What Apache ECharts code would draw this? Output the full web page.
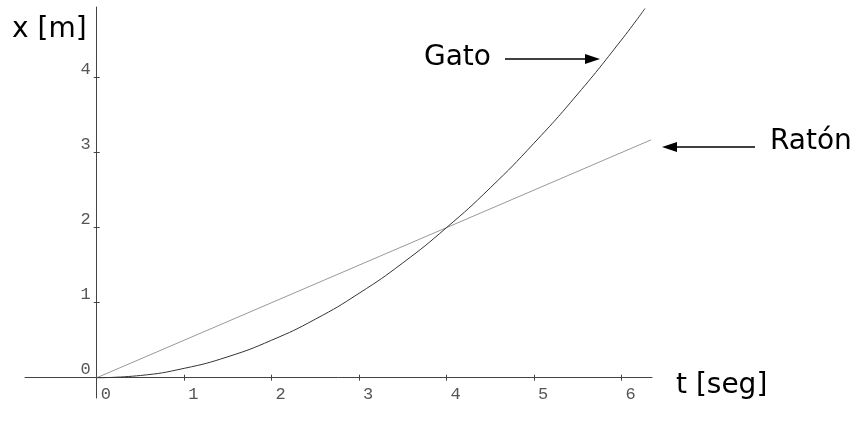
<!DOCTYPE html>
<html>
<head>
<meta charset="utf-8">
<script src="https://cdn.jsdelivr.net/npm/echarts@6/dist/echarts.min.js"></script>
<style>
  html, body { margin: 0; padding: 0; background: #fff; }
  #chart { width: 858px; height: 421px; }
</style>
</head>
<body>
<div id="chart"></div>
<script>
// tiempo (s) y posiciones
const tiempos = [0, 0.5, 1, 1.5, 2, 2.5, 3, 3.5, 4, 4.5, 5, 5.5, 6, 6.27];
const gato = [0, 0.03, 0.125, 0.28, 0.5, 0.78, 1.125, 1.53, 2, 2.53, 3.125, 3.78, 4.5, 4.92];
const ratonT = [0, 6.34];
const raton = [0, 3.17];
const xTicks = [0, 1, 2, 3, 4, 5, 6];
const yTicks = [0, 1, 2, 3, 4];

const gatoData = tiempos.map((t, i) => [t, gato[i]]);
const ratonData = ratonT.map((t, i) => [t, raton[i]]);

const handFont = '"DejaVu Sans", "Open Sans", sans-serif';
const tickFont = '"Liberation Mono", "DejaVu Sans Mono", monospace';

const xBase = { type: 'value', min: -0.82, max: 6.35, position: 'bottom', offset: -20.3, splitLine: { show: false } };
const yBase = { type: 'value', min: -0.27, max: 4.94, position: 'left', offset: -71.7, splitLine: { show: false } };

const chart = echarts.init(document.getElementById('chart'));
chart.setOption({
  animation: false,
  grid: { left: 25, right: 206, top: 7, bottom: 23 },
  xAxis: [
    {
      ...xBase,
      axisLine: { onZero: false, lineStyle: { color: '#444', width: 1 } },
      axisTick: { customValues: xTicks, length: 3, lineStyle: { color: '#444' } },
      axisLabel: {
        customValues: xTicks,
        align: 'left',
        padding: [0, 0, 0, 4],
        margin: 8,
        color: '#555',
        fontFamily: tickFont,
        fontSize: 17
      }
    },
    {
      // marcas del otro lado del eje
      ...xBase,
      axisLine: { show: false, onZero: false },
      axisTick: { customValues: xTicks, inside: true, length: 3, lineStyle: { color: '#444' } },
      axisLabel: { show: false }
    }
  ],
  yAxis: [
    {
      ...yBase,
      axisLine: { onZero: false, lineStyle: { color: '#444', width: 1 } },
      axisTick: { customValues: yTicks, length: 3, lineStyle: { color: '#444' } },
      axisLabel: {
        customValues: yTicks,
        verticalAlign: 'bottom',
        margin: 6,
        color: '#555',
        fontFamily: tickFont,
        fontSize: 17
      }
    },
    {
      ...yBase,
      axisLine: { show: false, onZero: false },
      axisTick: { customValues: yTicks, inside: true, length: 3, lineStyle: { color: '#444' } },
      axisLabel: { show: false }
    }
  ],
  series: [
    {
      name: 'Ratón',
      type: 'line',
      data: ratonData,
      showSymbol: false,
      lineStyle: { color: '#999', width: 1 }
    },
    {
      name: 'Gato',
      type: 'line',
      data: gatoData,
      smooth: true,
      showSymbol: false,
      lineStyle: { color: '#333', width: 1 }
    }
  ],
  graphic: [
    { type: 'text', x: 12, y: 30, style: { text: 'x [m]', font: '28px ' + handFont, fill: '#000', verticalAlign: 'middle' } },
    { type: 'text', x: 676, y: 386, style: { text: 't [seg]', font: '28px ' + handFont, fill: '#000', verticalAlign: 'middle' } },
    { type: 'text', x: 424, y: 58, style: { text: 'Gato', font: '28px ' + handFont, fill: '#000', verticalAlign: 'middle' } },
    { type: 'text', x: 770, y: 142, style: { text: 'Ratón', font: '28px ' + handFont, fill: '#000', verticalAlign: 'middle' } },
    // flechas
    { type: 'line', shape: { x1: 505, y1: 59, x2: 590, y2: 59 }, style: { stroke: '#000', lineWidth: 1.5 } },
    { type: 'polygon', shape: { points: [[600, 59], [585, 54], [585, 64]] }, style: { fill: '#000' } },
    { type: 'line', shape: { x1: 755, y1: 147, x2: 672, y2: 147 }, style: { stroke: '#000', lineWidth: 1.5 } },
    { type: 'polygon', shape: { points: [[662, 147], [677, 142], [677, 152]] }, style: { fill: '#000' } }
  ]
});
</script>
</body>
</html>
